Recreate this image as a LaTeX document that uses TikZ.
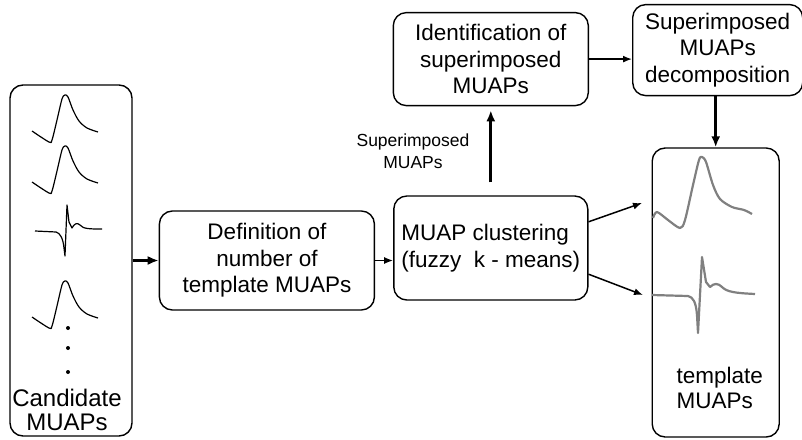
\documentclass[tikz,border=0pt]{standalone}
\usepackage{fontspec}
\setmainfont{Liberation Sans}
\usetikzlibrary{arrows.meta,positioning,calc}

\begin{document}
\begin{tikzpicture}
[x=1pt,y=-1pt,
box/.style={rectangle,rounded corners=13pt,draw=black,line width=1.4pt,align=center,inner sep=0pt,font=\fontsize{22.5}{26.5}\selectfont},
caption/.style={align=center,inner sep=0pt,font=\fontsize{22.5}{25}\selectfont},
note/.style={align=center,inner sep=0pt,font=\fontsize{17.5}{22}\selectfont},
link/.style={-{Latex[length=9pt,width=7pt]},line width=1.5pt},
bold link/.style={-{Latex[length=11pt,width=9pt]},line width=2.8pt},
raw wave/.style={line width=1.2pt,line join=round},
mean wave/.style={black!50,line width=2.2pt,line join=round}]
\useasboundingbox (0,0) rectangle (802,439);
% boxes
\node[box,minimum width=122pt,minimum height=351pt] (candidate) at (71,260.5) {};
\node[caption,font=\fontsize{24}{24}\selectfont,above=6pt of candidate.south,xshift=-4pt] (candidate text) {Candidate\\MUAPs};
\node[box,minimum width=215pt,minimum height=99pt,right=26pt of candidate] (definition) {Definition of\\number of\\template MUAPs};
\node[box,align=left,minimum width=194pt,minimum height=104pt,right=18pt of definition,yshift=12.5pt] (clustering) {MUAP clustering\\(fuzzy\ \ k - means)};
\node[box,minimum width=195pt,minimum height=93pt,above=89pt of clustering] (identification) {Identification of\\superimposed\\MUAPs};
\node[box,minimum width=170pt,minimum height=91pt,right=43pt of identification,yshift=9pt] (decomposition) {Superimposed\\MUAPs\\decomposition};
\node[box,minimum width=127pt,minimum height=289pt,below=51pt of decomposition,xshift=-2pt] (template) {};
\node[caption,align=left,above=29pt of template.south,xshift=4pt] (template text) {template\\MUAPs};
\node[note] (superimposed note) at (413,151) {Superimposed\\MUAPs};
\coordinate (upper tip) at (642,203);
\coordinate (lower tip) at (643,295);
% connectors
\draw[bold link] (candidate) -- (definition);
\draw[link] (definition.east) -- (definition.east -| clustering.west);
\draw[bold link,shorten <=13pt,shorten >=4pt] (clustering.north) -- (clustering.north |- identification.south);
\draw[link] (identification.east) -- (identification.east -| decomposition.west);
\draw[bold link] (template.north |- decomposition.south) -- (template.north);
\draw[link] (clustering.15) -- (upper tip);
\draw[link] (clustering.-15) -- (lower tip);
% candidate waveforms
\foreach \dy in {0,51,186}
  \draw[raw wave,shift={(0,\dy)}] plot[smooth,tension=0.5] coordinates {(32,131) (49,142) (52,140) (57,120) (62,99) (65,95) (68,97) (73,110) (79,121) (87,128) (98,132)};
\draw[raw wave] (35,231) -- (56,232) .. controls (60,233) and (63,238) .. (64,248) -- (65,256) -- (67,205) -- (69,222) -- (72,228) .. controls (74,224) and (77,222) .. (80,225) .. controls (83,229) and (90,229) .. (102,229);
\foreach \y in {328,348,372}
  \fill (68,\y) circle (2pt);
% template waveforms
\draw[mean wave] plot[smooth,tension=0.5] coordinates {(653,218) (657,212) (668,220) (680,228) (685,220) (693,185) (699,160) (702,157) (706,162) (713,185) (720,199) (732,207) (744,210) (752,214)};
\draw[mean wave] (652,295) -- (688,296) .. controls (693,297) and (696,302) .. (697,315) -- (698,333) -- (702,257) -- (706,282) -- (710,287) .. controls (714,283) and (718,283) .. (722,287) .. controls (727,292) and (735,293) .. (755,294);
\end{tikzpicture}
\end{document}
